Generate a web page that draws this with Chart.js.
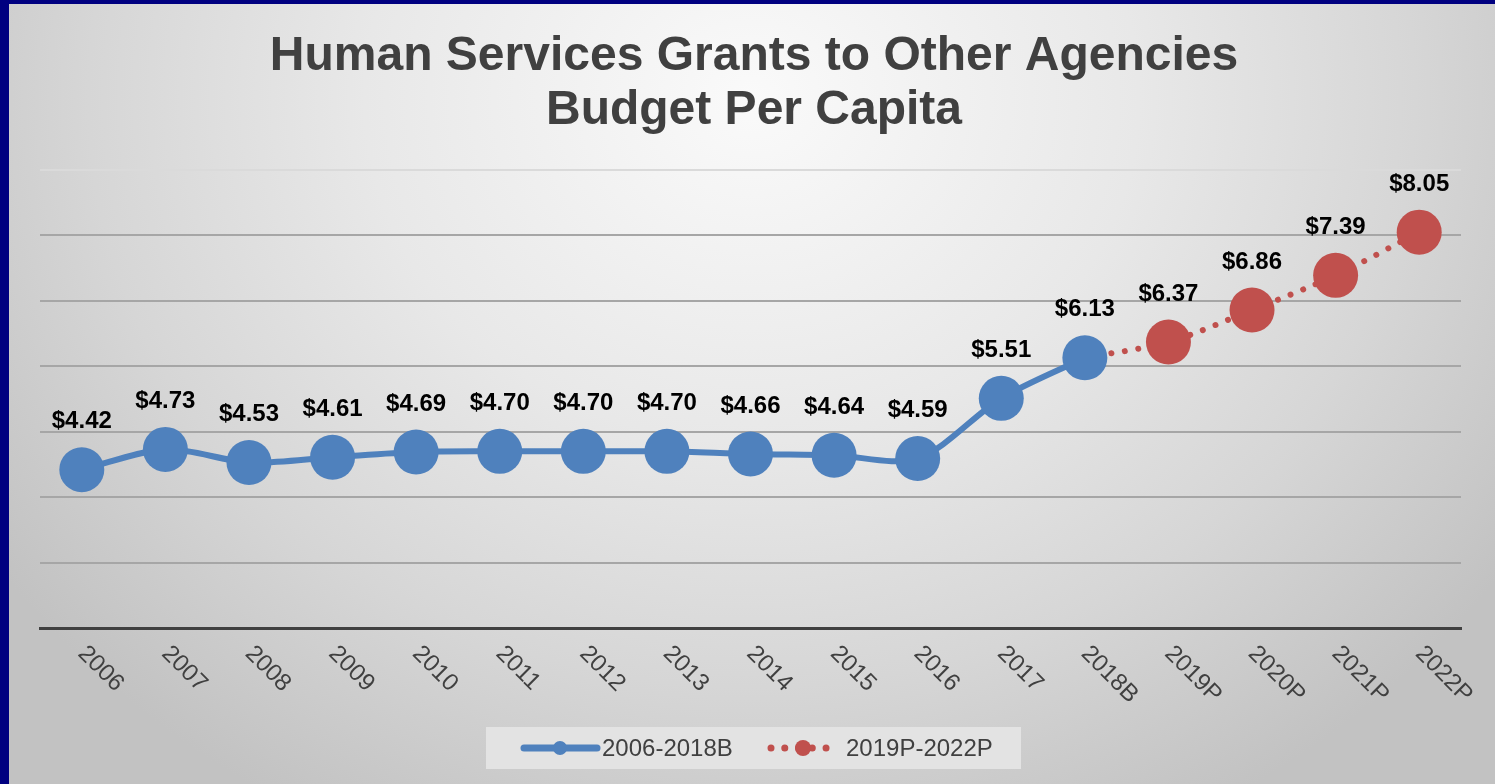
<!DOCTYPE html>
<html>

<head>
    <title>Human Services Grants to Other Agencies</title>
    <script src="https://cdn.jsdelivr.net/npm/chart.js"></script>
    <style>
        html, body { margin: 0; padding: 0; }
        body { width: 1495px; height: 784px; background: #000080; position: relative; overflow: hidden; }
        #panel {
            position: absolute; left: 9px; top: 4px; right: 0; bottom: 0;
            background: radial-gradient(ellipse 62% 105% at 50% 12%, #fafafa 0%, #e8e8e8 42%, #d6d6d6 72%, #c2c2c2 100%);
        }
        #myChart { position: absolute; left: 0; top: 0; }
    </style>
</head>

<body>
    <div id="panel"></div>
    <canvas id="myChart" width="1495" height="784"></canvas>

    <script>
        // Categorias del eje X
        const years = ['2006', '2007', '2008', '2009', '2010', '2011', '2012', '2013', '2014',
            '2015', '2016', '2017', '2018B', '2019P', '2020P', '2021P', '2022P'];

        // Presupuesto per capita, real y proyectado
        const actualValues = [4.42, 4.73, 4.53, 4.61, 4.69, 4.70, 4.70, 4.70, 4.66,
            4.64, 4.59, 5.51, 6.13, null, null, null, null];
        const projectedValues = [null, null, null, null, null, null, null, null, null,
            null, null, null, 6.13, 6.37, 6.86, 7.39, 8.05];

        const titleLines = ['Human Services Grants to Other Agencies', 'Budget Per Capita'];
        const seriesNames = ['2006-2018B', '2019P-2022P'];

        const FONT = '"Liberation Sans", Arial, sans-serif';
        const BLUE = '#4f81bd';
        const RED = '#c0504d';
        const TEXT = '#404040';

        // Titulo, etiquetas rotadas, valores y leyenda dibujados a mano
        const decorations = {
            id: 'decorations',
            afterDatasetsDraw(chart) {
                const ctx = chart.ctx;
                ctx.save();
                ctx.font = 'bold 24px ' + FONT;
                ctx.fillStyle = '#000';
                ctx.textAlign = 'center';
                ctx.textBaseline = 'middle';
                chart.data.datasets.forEach((ds, di) => {
                    const meta = chart.getDatasetMeta(di);
                    ds.data.forEach((v, i) => {
                        if (v === null) return;
                        if (di === 1 && actualValues[i] !== null) return;
                        const pt = meta.data[i];
                        ctx.fillText('$' + v.toFixed(2), pt.x, pt.y - 48);
                    });
                });
                ctx.restore();
            },
            afterDraw(chart) {
                const ctx = chart.ctx;
                const xScale = chart.scales.x;
                ctx.save();

                // titulo
                ctx.font = 'bold 48px ' + FONT;
                ctx.fillStyle = TEXT;
                ctx.textAlign = 'center';
                ctx.textBaseline = 'alphabetic';
                ctx.fillText(titleLines[0], 754, 70);
                ctx.fillText(titleLines[1], 754, 124);

                // etiquetas del eje X a 45 grados
                ctx.font = '24px ' + FONT;
                ctx.textAlign = 'left';
                ctx.textBaseline = 'middle';
                years.forEach((y, i) => {
                    const x = xScale.getPixelForValue(i);
                    ctx.save();
                    ctx.translate(x, 650);
                    ctx.rotate(Math.PI / 4);
                    ctx.fillText(y, 0, 0);
                    ctx.restore();
                });

                // leyenda
                ctx.fillStyle = '#e3e3e3';
                ctx.fillRect(486, 727, 535, 42);

                ctx.lineCap = 'round';
                ctx.strokeStyle = BLUE;
                ctx.lineWidth = 7;
                ctx.beginPath();
                ctx.moveTo(524, 748);
                ctx.lineTo(597, 748);
                ctx.stroke();
                ctx.fillStyle = BLUE;
                ctx.beginPath();
                ctx.arc(560, 748, 7, 0, Math.PI * 2);
                ctx.fill();

                ctx.strokeStyle = RED;
                ctx.setLineDash([0.01, 13.75]);
                ctx.beginPath();
                ctx.moveTo(771, 748);
                ctx.lineTo(827, 748);
                ctx.stroke();
                ctx.setLineDash([]);
                ctx.fillStyle = RED;
                ctx.beginPath();
                ctx.arc(803, 748, 8, 0, Math.PI * 2);
                ctx.fill();

                ctx.font = '24px ' + FONT;
                ctx.fillStyle = TEXT;
                ctx.textAlign = 'left';
                ctx.fillText(seriesNames[0], 602, 749);
                ctx.fillText(seriesNames[1], 846, 749);

                ctx.restore();
            }
        };

        const ctx = document.getElementById('myChart').getContext('2d');
        new Chart(ctx, {
            type: 'line',
            data: {
                labels: years,
                datasets: [{
                    label: seriesNames[0],
                    data: actualValues,
                    borderColor: BLUE,
                    backgroundColor: BLUE,
                    borderWidth: 6,
                    pointRadius: 22.5,
                    pointBorderWidth: 0,
                    pointBackgroundColor: BLUE,
                    tension: 0.3,
                    order: 0
                }, {
                    label: seriesNames[1],
                    data: projectedValues,
                    borderColor: RED,
                    backgroundColor: RED,
                    borderWidth: 6,
                    borderDash: [0.01, 13.5],
                    borderCapStyle: 'round',
                    pointRadius: (c) => actualValues[c.dataIndex] !== null ? 0 : 22.5,
                    pointBorderWidth: 0,
                    pointBackgroundColor: RED,
                    tension: 0.3,
                    order: 1
                }]
            },
            options: {
                responsive: false,
                animation: false,
                layout: {
                    padding: { left: 40, right: 34, top: 170, bottom: 156 }
                },
                plugins: {
                    legend: { display: false },
                    tooltip: { enabled: false },
                    title: { display: false }
                },
                scales: {
                    x: {
                        offset: true,
                        ticks: { display: false },
                        grid: { display: false, drawTicks: false },
                        border: { display: true, color: TEXT, width: 3 }
                    },
                    y: {
                        min: 2,
                        max: 9,
                        ticks: { display: false, stepSize: 1 },
                        grid: {
                            drawTicks: false,
                            lineWidth: 2,
                            color: (c) => {
                                if (c.tick.value === 2) return 'rgba(0,0,0,0)';
                                if (c.tick.value === 9) return '#dadada';
                                return '#a6a6a6';
                            }
                        },
                        border: { display: false }
                    }
                }
            },
            plugins: [decorations]
        });
    </script>
</body>

</html>
